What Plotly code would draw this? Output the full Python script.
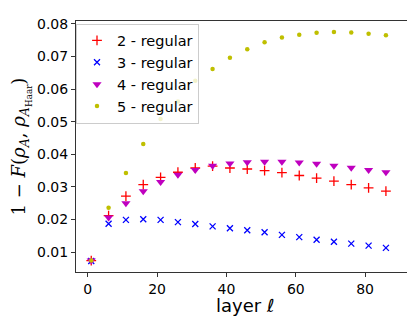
import plotly.graph_objects as go

layers = [1, 6, 11, 16, 21, 26, 31, 36, 41, 46, 51, 56, 61, 66, 71, 76, 81, 86]

reg2 = [0.0074, 0.0212, 0.0272, 0.0307, 0.0329, 0.0345, 0.0358, 0.0364, 0.0358,
        0.0355, 0.0350, 0.0344, 0.0335, 0.0327, 0.0318, 0.0307, 0.0297, 0.0287]
reg3 = [0.0073, 0.0187, 0.0199, 0.0201, 0.0199, 0.0192, 0.0186, 0.0179, 0.0173,
        0.0167, 0.0161, 0.0153, 0.0146, 0.0138, 0.0132, 0.0126, 0.0120, 0.0113]
reg4 = [0.0074, 0.0206, 0.0250, 0.0287, 0.0315, 0.0337, 0.0352, 0.0365, 0.0372,
        0.0376, 0.0377, 0.0377, 0.0375, 0.0371, 0.0365, 0.0359, 0.0352, 0.0345]
reg5 = [0.0074, 0.0236, 0.0343, 0.0432, 0.0508, 0.0562, 0.0626, 0.0662, 0.0696,
        0.0722, 0.0744, 0.0758, 0.0767, 0.0773, 0.0775, 0.0774, 0.0770, 0.0765]

names = ["2 - regular", "3 - regular", "4 - regular", "5 - regular"]

fig = go.Figure()
fig.add_trace(go.Scatter(x=layers, y=reg2, mode="markers", name=names[0],
                         marker=dict(symbol="cross-thin", size=7, color="#ff0000",
                                     line=dict(width=1.3, color="#ff0000"))))
fig.add_trace(go.Scatter(x=layers, y=reg3, mode="markers", name=names[1],
                         marker=dict(symbol="x-thin", size=6, color="#0000ff",
                                     line=dict(width=1.3, color="#0000ff"))))
fig.add_trace(go.Scatter(x=layers, y=reg4, mode="markers", name=names[2],
                         marker=dict(symbol="triangle-down", size=8, color="#bf00bf",
                                     line=dict(width=0))))
fig.add_trace(go.Scatter(x=layers, y=reg5, mode="markers", name=names[3],
                         marker=dict(symbol="circle", size=4.5, color="#bfbf00",
                                     line=dict(width=0))))

axis_common = dict(showline=True, linecolor="#333333", linewidth=1, mirror=True,
                   ticks="outside", ticklen=4, tickcolor="#333333", showgrid=False,
                   zeroline=False, tickfont=dict(family="DejaVu Sans", size=14, color="black"))

fig.update_layout(
    width=415, height=316,
    margin=dict(l=68, r=8, t=11, b=52),
    plot_bgcolor="white", paper_bgcolor="white",
    xaxis=dict(range=[-3.4, 94.1], dtick=20, tick0=0, **axis_common),
    yaxis=dict(range=[0.0039, 0.0809], dtick=0.01, tick0=0, tickformat=".2f",
               title=dict(text="1 − <i>F</i>(<i>ρ</i><sub><i>A</i></sub>, <i>ρ</i><sub><i>A</i><sub>Haar</sub></sub>)",
                          font=dict(family="DejaVu Serif", size=18, color="black"), standoff=6),
               **axis_common),
    legend=dict(x=0.0, y=0.99, xanchor="left", yanchor="top",
                bgcolor="rgba(255,255,255,0.8)", bordercolor="#cccccc", borderwidth=1,
                font=dict(family="DejaVu Sans", size=14.5, color="black"),
                itemwidth=30, tracegroupgap=0),
    showlegend=True,
    annotations=[dict(text="layer <i>ℓ</i>", x=0.5, y=-0.135, xref="paper", yref="paper",
                      xanchor="center", yanchor="middle", showarrow=False,
                      font=dict(family="DejaVu Sans", size=18, color="black"))],
)

fig.write_html("out.html")
